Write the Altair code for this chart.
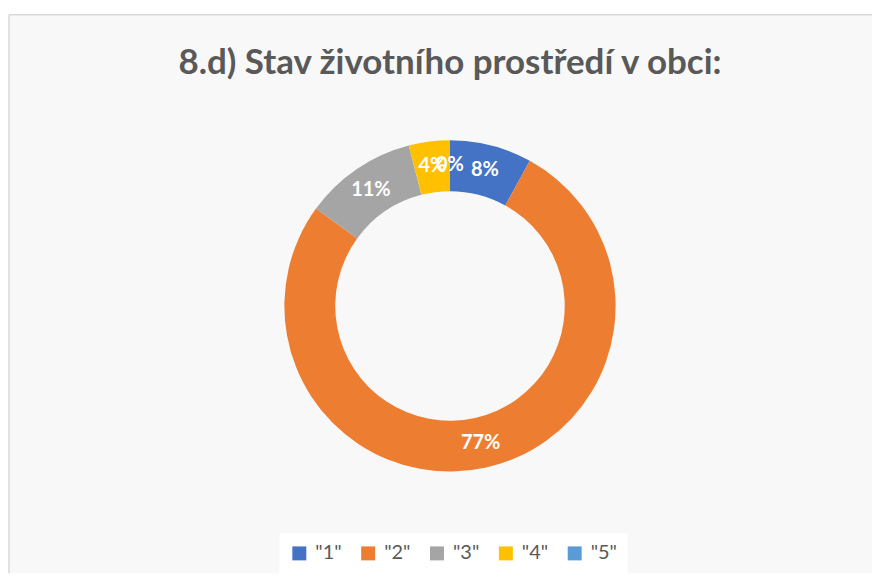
import altair as alt
import pandas as pd

categories = ['"1"', '"2"', '"3"', '"4"', '"5"']
values = [8, 77, 11, 4, 0]
labels = ["8%", "77%", "11%", "4%", "0%"]
colors = ["#4472C4", "#ED7D31", "#A5A5A5", "#FFC000", "#5B9BD5"]

df = pd.DataFrame({"cat": categories, "value": values, "label": labels,
                   "idx": list(range(len(categories)))})

W, H = 865, 560
CX, CY = 442, 292

base = alt.Chart(df).encode(
    theta=alt.Theta("value:Q", stack=True),
    order=alt.Order("idx:Q"),
)

arc = base.mark_arc(radius=166, radius2=115, x=CX, y=CY).encode(
    color=alt.Color(
        "cat:N",
        scale=alt.Scale(domain=categories, range=colors),
        sort=categories,
        legend=alt.Legend(
            title=None,
            orient="none",
            direction="horizontal",
            columns=5,
            legendX=271,
            legendY=520,
            symbolType="square",
            symbolSize=196,
            symbolStrokeWidth=0,
            labelFontSize=20,
            labelFont="Lato",
            labelColor="#595959",
            labelOffset=6,
            columnPadding=16,
            fillColor="#ffffff",
            padding=10,
        ),
    ),
)

text = base.mark_text(radius=141, x=CX, y=CY, font="Lato", fontSize=20,
                      fontWeight="bold", color="white").encode(text="label:N")

bg = alt.Chart(pd.DataFrame({"a": [0]})).mark_rect(color="#f8f8f8").encode(
    x=alt.value(0), x2=alt.value(W), y=alt.value(0), y2=alt.value(H))
left = alt.Chart(pd.DataFrame({"a": [0]})).mark_rule(color="#d9d9d9", strokeWidth=1.5).encode(
    x=alt.value(0), y=alt.value(0), y2=alt.value(H))
top = alt.Chart(pd.DataFrame({"a": [0]})).mark_rule(color="#d9d9d9", strokeWidth=1.5).encode(
    x=alt.value(0), x2=alt.value(W), y=alt.value(0))

title = alt.Chart(pd.DataFrame({"t": ["8.d) Stav životního prostředí v obci:"]})).mark_text(
    font="Lato", fontSize=35, fontWeight="bold", color="#595959", baseline="middle"
).encode(text="t:N", x=alt.value(CX), y=alt.value(48))

chart = alt.layer(bg, left, top, title, arc, text).properties(
    width=W, height=H,
    padding={"left": 0, "top": 5, "right": 0, "bottom": 0},
    background="white",
).configure_view(stroke=None)

chart.save("out.html", embed_options={"renderer": "svg", "actions": False})
